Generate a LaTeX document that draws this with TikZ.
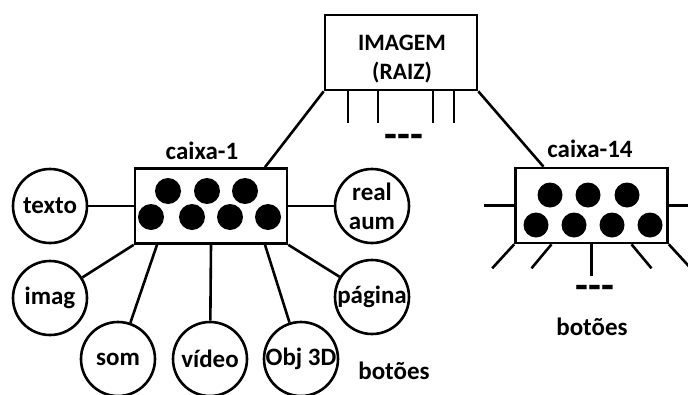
\documentclass[tikz,border=0pt]{standalone}
\usepackage{fontspec}
\setmainfont{Carlito}
\usetikzlibrary{positioning,calc}

\tikzset{
    box/.style={draw, line width=2.6pt, minimum width=152pt, minimum height=75pt, inner sep=0pt},
    item/.style={circle, draw, line width=2.6pt, minimum size=74pt, inner sep=0pt, align=center},
    conn/.style={line width=2.6pt},
    gap/.style={font=\fontsize{42}{42}\selectfont\bfseries}
}

\begin{document}
\begin{tikzpicture}[x=1pt, y=-1pt, font=\fontsize{25}{29}\selectfont\bfseries]
    \useasboundingbox (0,0) rectangle (688,394);

    % Root image
    \node[box] (root) at (401,52.5) {};
    \node[align=center, font=\fontsize{23.5}{28.5}\selectfont\bfseries] (roottext) at (402,59) {IMAGEM\\(RAIZ)};
    \foreach \dx in {-53,-23,32,53}
        \draw[conn] ([xshift=\dx]root.south) -- ++(0,32);
    \node[gap] (more) at (404,141) {-{}-{}-};

    % Boxes
    \node[box] (box1) at (211,206) {};
    \node (cap1) at (202,151) {caixa-1};
    \node[box] (box14) at (591.5,205.5) {};
    \node (cap14) at (590,149) {caixa-14};

    % Buttons
    \foreach \dx in {-43,-4,34}
        \fill ([shift={(\dx,-15)}]box1.center) circle (13pt);
    \foreach \dx in {-60,-19,19,57}
        \fill ([shift={(\dx,11)}]box1.center) circle (13pt);
    \foreach \dx in {-41.5,-3.5,35.5}
        \fill ([shift={(\dx,-10.5)}]box14.center) circle (12.5pt);
    \foreach \dx in {-55.5,-17.5,20.5,58.5}
        \fill ([shift={(\dx,19.5)}]box14.center) circle (12.5pt);

    % Root to boxes
    \draw[conn] (root.south west) -- ([xshift=54]box1.north);
    \draw[conn] (root.south east) -- ([xshift=-48]box14.north);

    % Media of caixa-1
    \node[item] (texto) at (50,206) {texto};
    \node[item] (imag) at (50,298) {imag};
    \node[item] (som) at (118,359) {som};
    \node[item] (video) at (210,359) {vídeo};
    \node[item] (obj) at (301,359) {Obj 3D};
    \node[item] (pagina) at (372,297) {página};
    \node[item] (real) at (372,206) {real\\aum};
    \draw[conn] (texto) -- (box1.west);
    \draw[conn] (box1.south west) -- (imag);
    \draw[conn] ([xshift=-54]box1.south) -- (som);
    \draw[conn] (box1.south) -- (video);
    \draw[conn] ([xshift=54]box1.south) -- (obj);
    \draw[conn] (box1.south east) -- (pagina);
    \draw[conn] (box1.east) -- (real);
    \node (btn1) at (394,371) {botões};

    % Stubs of caixa-14
    \draw[conn] (box14.west) -- ++(-30,0);
    \draw[conn] (box14.east) -- ++(30,0);
    \draw[conn] (box14.south west) -- ++(-22,24);
    \draw[conn] ([xshift=-40]box14.south) -- ++(-20,24);
    \draw[conn] (box14.south) -- ++(0,32);
    \draw[conn] ([xshift=40]box14.south) -- ++(20,24);
    \draw[conn] (box14.south east) -- ++(22,24);
    \node[gap] (more14) at (595,292) {-{}-{}-};
    \node (btn2) at (592,327) {botões};
\end{tikzpicture}
\end{document}
